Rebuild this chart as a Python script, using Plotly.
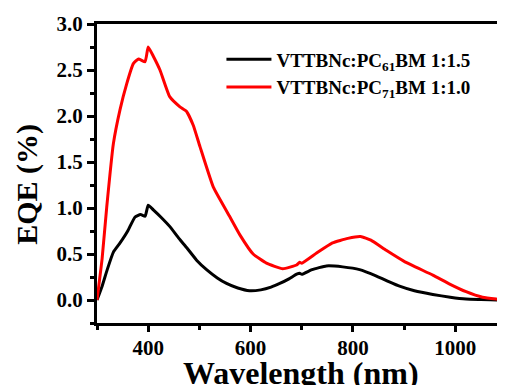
import plotly.graph_objects as go

# Data
wl_61 = [300, 310, 320, 332, 345, 360, 374, 385, 394, 400, 410, 425, 442, 460, 475, 495, 514, 535, 553, 575, 598, 620, 640, 657, 675, 690, 696, 700, 720, 748, 780, 813, 846, 870, 891, 920, 956, 990, 1021, 1050, 1086, 1100]
eqe_61 = [0.0, 0.15, 0.33, 0.52, 0.62, 0.75, 0.90, 0.93, 0.91, 1.03, 0.98, 0.90, 0.80, 0.67, 0.57, 0.43, 0.33, 0.24, 0.18, 0.13, 0.10, 0.11, 0.14, 0.18, 0.23, 0.28, 0.29, 0.28, 0.33, 0.37, 0.36, 0.33, 0.26, 0.20, 0.15, 0.10, 0.06, 0.03, 0.01, 0.005, 0.0, 0.0]

wl_71 = [300, 310, 319, 332, 345, 358, 371, 381, 394, 400, 410, 423, 442, 462, 475, 488, 501, 527, 559, 580, 605, 631, 663, 690, 696, 700, 729, 760, 790, 815, 835, 865, 900, 956, 990, 1021, 1053, 1080, 1100]
eqe_71 = [0.0, 0.45, 1.01, 1.70, 2.07, 2.35, 2.57, 2.62, 2.59, 2.75, 2.65, 2.50, 2.21, 2.10, 2.05, 1.90, 1.67, 1.23, 0.91, 0.70, 0.50, 0.40, 0.34, 0.38, 0.41, 0.40, 0.51, 0.62, 0.67, 0.69, 0.65, 0.54, 0.42, 0.27, 0.17, 0.09, 0.03, 0.01, 0.0]

name_61 = "VTTBNc:PC<sub>61</sub>BM 1:1.5"
name_71 = "VTTBNc:PC<sub>71</sub>BM 1:1.0"

x_ticks = [400, 600, 800, 1000]
y_ticks = [0.0, 0.5, 1.0, 1.5, 2.0, 2.5, 3.0]
y_labels = ["0.0", "0.5", "1.0", "1.5", "2.0", "2.5", "3.0"]

x_title = "Wavelength (nm)"
y_title = "EQE (%)"

font_family = "Liberation Serif"

fig = go.Figure()
fig.add_trace(go.Scatter(x=wl_61, y=eqe_61, mode="lines", name=name_61,
                         line=dict(color="black", width=3, shape="spline", smoothing=0.4)))
fig.add_trace(go.Scatter(x=wl_71, y=eqe_71, mode="lines", name=name_71,
                         line=dict(color="#ff0000", width=3, shape="spline", smoothing=0.4)))

fig.update_layout(
    width=497, height=377,
    margin=dict(l=89, r=0, t=16, b=62, autoexpand=False),
    paper_bgcolor="white", plot_bgcolor="white",
    font=dict(family=font_family, color="black"),
    showlegend=True,
    legend=dict(x=0.305, y=0.945, xanchor="left", yanchor="top",
                bgcolor="rgba(0,0,0,0)", borderwidth=0,
                font=dict(family=font_family, size=19, color="black", weight="bold"),
                tracegroupgap=0, itemwidth=45),
    annotations=[
        dict(text=y_title, xref="paper", yref="paper",
             x=-70 / 408, y=0.462, xanchor="center", yanchor="middle",
             textangle=-90, showarrow=False,
             font=dict(family=font_family, size=30, color="black", weight="bold")),
        dict(text=x_title, xref="paper", yref="paper",
             x=0.5, y=-30 / 299, xanchor="center", yanchor="top",
             showarrow=False,
             font=dict(family=font_family, size=32, color="black", weight="bold")),
    ],
)
fig.update_xaxes(
    range=[300, 1097], showgrid=False, zeroline=False, automargin=False,
    showline=True, linecolor="black", linewidth=3, mirror=True,
    ticks="outside", ticklen=6, tickwidth=2.5, tickcolor="black",
    tickvals=x_ticks, ticklabelstandoff=-2,
    tickfont=dict(family=font_family, size=21, color="black", weight="bold"),
    minor=dict(tickvals=[300, 500, 700, 900, 1100], ticks="outside", ticklen=4, tickwidth=2.5, tickcolor="black"),
)
fig.update_yaxes(
    range=[-0.25, 3.0], showgrid=False, zeroline=False, automargin=False,
    showline=True, linecolor="black", linewidth=3, mirror=False,
    ticks="outside", ticklen=7, tickwidth=2.5, tickcolor="black",
    tickvals=y_ticks, ticktext=y_labels,
    tickfont=dict(family=font_family, size=21, color="black", weight="bold"),
    minor=dict(tickvals=[-0.25, 0.25, 0.75, 1.25, 1.75, 2.25, 2.75], ticks="outside", ticklen=4, tickwidth=2.5, tickcolor="black"),
)

fig.write_html("out.html")
